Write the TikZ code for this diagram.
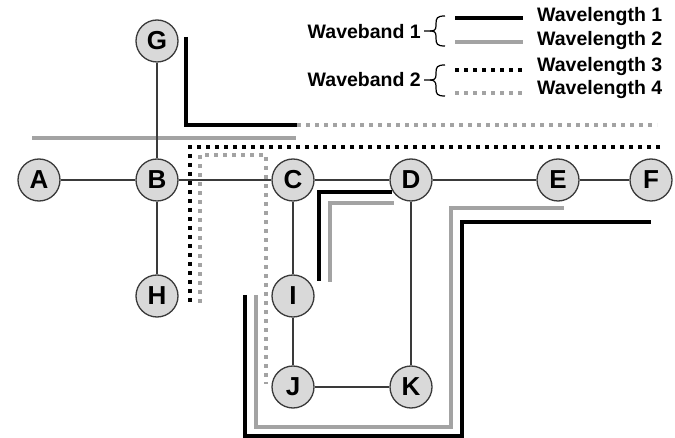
\documentclass[tikz,border=0pt]{standalone}
\usepackage{fontspec}
\setmainfont{Liberation Sans}
\definecolor{wgray}{HTML}{A3A3A3}
\definecolor{nfill}{HTML}{D9D9D9}
\definecolor{nline}{HTML}{3A3A3A}
\begin{document}
\begin{tikzpicture}[x=1pt,y=-1pt,
  nd/.style={circle,draw=nline,line width=1.3pt,fill=nfill,minimum size=42pt,inner sep=0pt,font=\bfseries\fontsize{26}{26}\selectfont},
  lnk/.style={draw=nline,line width=1.3pt},
  wlone/.style={line width=4pt,black},
  wltwo/.style={line width=4pt,wgray},
  wlthree/.style={line width=4pt,black,dash pattern=on 4pt off 5pt},
  wlfour/.style={line width=4pt,wgray,dash pattern=on 4pt off 5pt},
  lbl/.style={font=\bfseries\fontsize{19.5}{19.5}\selectfont,inner sep=0pt},
  brc/.style={line width=1.2pt,black}]
\useasboundingbox (0,0) rectangle (675,438);
% wavelength paths
\draw[wlone] (186,37) -- (186,125) -- (297,125);
\draw[wlfour] (297,125) -- (657,125);
\draw[wltwo] (32,138) -- (296,138);
\draw[wlthree] (660,147) -- (190,147) -- (190,303);
\draw[wlfour] (200,303) -- (200,155) -- (266,155) -- (266,384);
\draw[wlone] (319,281) -- (319,192) -- (392,192);
\draw[wltwo] (330,282) -- (330,203) -- (394,203);
\draw[wltwo] (256,295) -- (256,427) -- (451,427) -- (451,208) -- (564,208);
\draw[wlone] (245,295) -- (245,436) -- (462,436) -- (462,222) -- (651,222);
% nodes
\node[nd] (G) at (157,41) {G};
\node[nd] (A) at (39,180) {A};
\node[nd] (B) at (157,180) {B};
\node[nd] (C) at (293,180) {C};
\node[nd] (D) at (411,180) {D};
\node[nd] (E) at (558,180) {E};
\node[nd] (F) at (651,180) {F};
\node[nd] (H) at (157,296) {H};
\node[nd] (I) at (293,296) {I};
\node[nd] (J) at (293,387) {J};
\node[nd] (K) at (411,387) {K};
% edges
\draw[lnk] (A) -- (B);
\draw[lnk] (B) -- (C);
\draw[lnk] (C) -- (D);
\draw[lnk] (D) -- (E);
\draw[lnk] (E) -- (F);
\draw[lnk] (G) -- (B);
\draw[lnk] (B) -- (H);
\draw[lnk] (C) -- (I);
\draw[lnk] (I) -- (J);
\draw[lnk] (J) -- (K);
\draw[lnk] (D) -- (K);
% legend
\node[lbl,anchor=east] (wb1) at (421,32) {Waveband 1};
\node[lbl,anchor=east] (wb2) at (421,80) {Waveband 2};
\draw[brc] (445,16) .. controls (437,16) and (436,18) .. (436,24) -- (436,26)
  .. controls (436,30) and (434,31) .. (430,31) -- (424,31);
\draw[brc] (445,46) .. controls (437,46) and (436,44) .. (436,38) -- (436,36)
  .. controls (436,32) and (434,31) .. (430,31);
\draw[brc] (445,65) .. controls (437,65) and (436,67) .. (436,73) -- (436,75)
  .. controls (436,79) and (434,80) .. (430,80) -- (424,80);
\draw[brc] (445,96) .. controls (437,96) and (436,94) .. (436,88) -- (436,86)
  .. controls (436,82) and (434,80) .. (430,80);
\coordinate (l1a) at (455,18); \coordinate (l1b) at (523,18);
\coordinate (l2a) at (455,42); \coordinate (l2b) at (523,42);
\coordinate (l3a) at (455,70); \coordinate (l3b) at (523,70);
\coordinate (l4a) at (455,93); \coordinate (l4b) at (523,93);
\draw[wlone] (l1a) -- (l1b);
\draw[wltwo] (l2a) -- (l2b);
\draw[wlthree] (l3a) -- (l3b);
\draw[wlfour] (l4a) -- (l4b);
\node[lbl,anchor=west] (t1) at (537,17) {Wavelength 1};
\node[lbl,anchor=west] (t2) at (537,41) {Wavelength 2};
\node[lbl,anchor=west] (t3) at (537,67) {Wavelength 3};
\node[lbl,anchor=west] (t4) at (537,90) {Wavelength 4};
\end{tikzpicture}
\end{document}
